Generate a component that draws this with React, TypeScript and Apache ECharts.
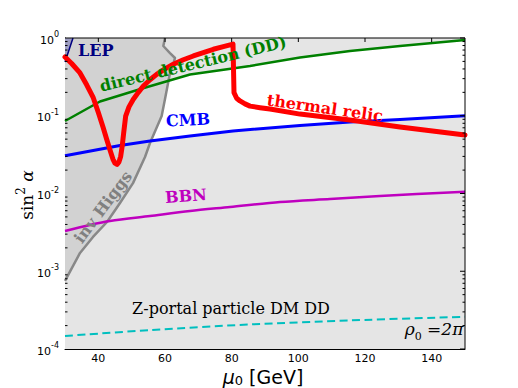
import React, { useEffect, useRef } from "react";
import * as echarts from "echarts";

// ---- data (mu0 [GeV], sin^2 alpha) ----
const xTickValues = [40, 60, 80, 100, 120, 140];
const yMajorTicks = [1e-4, 1e-3, 1e-2, 0.1, 1];
const yMinorTicks = [
  2e-4, 3e-4, 4e-4, 5e-4, 6e-4, 7e-4, 8e-4, 9e-4,
  2e-3, 3e-3, 4e-3, 5e-3, 6e-3, 7e-3, 8e-3, 9e-3,
  2e-2, 3e-2, 4e-2, 5e-2, 6e-2, 7e-2, 8e-2, 9e-2,
  0.2, 0.3, 0.4, 0.5, 0.6, 0.7, 0.8, 0.9,
];

const thermalRelic: [number, number][] = [
  [30, 0.57], [32, 0.47], [34.5, 0.355], [36.5, 0.25], [38.4, 0.174], [40, 0.11],
  [41.4, 0.0716], [42.5, 0.05], [43.5, 0.0363], [44.4, 0.0275], [45, 0.0245],
  [45.6, 0.0236], [46.2, 0.0255], [46.7, 0.03], [47.2, 0.042], [47.6, 0.06],
  [48.2, 0.099], [49.2, 0.13], [50.5, 0.163], [52, 0.2], [53.5, 0.241],
  [55.5, 0.29], [57.5, 0.341], [60, 0.4], [62.5, 0.459], [65.5, 0.525],
  [68.5, 0.587], [71.5, 0.65], [74.5, 0.716], [77.5, 0.775], [80.4, 0.835],
  [80.7, 0.198], [81.5, 0.168], [82.5, 0.155], [84, 0.142], [85.5, 0.133],
  [88.5, 0.127], [91.5, 0.122], [100.5, 0.105], [115.5, 0.088], [130.5, 0.0716],
  [150, 0.0565],
];

const directDetection: [number, number][] = [
  [30, 0.0856], [40.5, 0.1525], [53.4, 0.2255], [67.5, 0.3396], [85.5, 0.4365],
  [100.5, 0.561], [115.5, 0.681], [130.5, 0.789], [150, 0.942],
];

const cmb: [number, number][] = [
  [30, 0.0306], [46.5, 0.0414], [55.5, 0.0473], [67.5, 0.0549], [80.4, 0.0637],
  [100.5, 0.0749], [115.5, 0.0832], [130.5, 0.0895], [150, 0.1],
];

const bbn: [number, number][] = [
  [30, 0.0033], [37.5, 0.00394], [43.5, 0.00443], [55.5, 0.00514], [67.5, 0.00596],
  [79.5, 0.0067], [94.5, 0.00778], [109.5, 0.0085], [124.5, 0.0093], [150, 0.01055],
];

const zPortal: [number, number][] = [
  [30, 1.47e-4], [55.5, 1.75e-4], [85.5, 2.07e-4], [115.5, 2.33e-4], [150, 2.6e-4],
];

const invHiggs: [number, number][] = [
  [30, 7.5e-4], [34.5, 1.72e-3], [38.4, 2.76e-3], [42.6, 4.3e-3], [46.5, 7.55e-3],
  [50.4, 0.0136], [54, 0.0295], [55.5, 0.0446], [59, 0.099], [60, 0.164],
  [61.5, 0.355], [62.4, 0.45], [63, 0.553], [61.5, 0.641], [59.5, 0.789], [60, 1],
];

const lep: [number, number][] = [
  [30, 0.491], [32.4, 1],
];

export default function App() {
  const ref = useRef<HTMLDivElement>(null);

  useEffect(() => {
    if (!ref.current) return;
    const chart = echarts.init(ref.current, undefined, { renderer: "svg" });

    // excluded (grey) regions: above the DD curve, below the CMB curve
    const aboveDD: [number, number][] = [...directDetection, [150, 1], [30, 1]];
    const belowCMB: [number, number][] = [...cmb, [150, 1e-4], [30, 1e-4]];
    const higgsRegion: [number, number][] = [...invHiggs, [30, 1]];
    const lepRegion: [number, number][] = [...lep, [30, 1]];

    const regionSeries = (pts: [number, number][], fill: string, z: number) => ({
      type: "custom", z, clip: false, data: [[30, 0.5]],
      renderItem: (_p: any, api: any) => ({
        type: "group",
        children: [
          { type: "polygon", shape: { points: pts.map((p) => api.coord(p)) }, style: { fill, opacity: 1 } },
        ],
      }),
    });

    const serifBold = { fontFamily: "DejaVu Serif", fontWeight: "bold", fontSize: 16 } as any;

    const option: any = {
      animation: false,
      grid: { left: 65, right: 53, top: 38, bottom: 39 },
      xAxis: {
        type: "value", min: 30, max: 150,
        splitLine: { show: false },
        axisLine: { show: true, onZero: false, lineStyle: { color: "#000", width: 1 } },
        axisTick: { show: true, inside: true, length: 4, customValues: xTickValues, lineStyle: { color: "#000" } },
        axisLabel: {
          customValues: xTickValues, margin: 4, color: "#000",
          fontFamily: "DejaVu Sans", fontSize: 11,
        },
      },
      yAxis: {
        type: "log", logBase: 10, min: 1e-4, max: 1,
        splitLine: { show: false },
        axisLine: { show: true, onZero: false, lineStyle: { color: "#000", width: 1 } },
        axisTick: { show: true, inside: true, length: 5, lineStyle: { color: "#000" } },
        axisLabel: {
          margin: 6,
          formatter: (v: number) => `{b|10}{s|${Math.round(Math.log10(v))}}`,
          rich: {
            b: { fontFamily: "DejaVu Sans", fontSize: 11, color: "#000", verticalAlign: "bottom", lineHeight: 15 },
            s: { fontFamily: "DejaVu Sans", fontSize: 8, color: "#000", verticalAlign: "top", lineHeight: 9 },
          },
        },
      },
      series: [
        regionSeries(aboveDD, "#e5e5e5", 1),
        regionSeries(belowCMB, "#e5e5e5", 1),
        regionSeries(higgsRegion, "#d2d2d2", 2),
        regionSeries(lepRegion, "#9e9ec2", 2),
        {
          type: "line", name: "LEP", data: lep, showSymbol: false, z: 3,
          lineStyle: { color: "#000080", width: 1.5 },
        },
        {
          type: "line", name: "inv Higgs", data: invHiggs, showSymbol: false, z: 3,
          lineStyle: { color: "#888888", width: 2.5, join: "round" },
        },
        {
          type: "line", name: "Z-portal", data: zPortal, showSymbol: false, smooth: 0.3, z: 3,
          lineStyle: { color: "#00bfbf", width: 2, type: [8, 4.5] },
        },
        {
          type: "line", name: "BBN", data: bbn, showSymbol: false, smooth: 0.3, z: 3,
          lineStyle: { color: "#bf00bf", width: 2.5 },
        },
        {
          type: "line", name: "CMB", data: cmb, showSymbol: false, z: 3,
          lineStyle: { color: "#0000ff", width: 3, join: "round" },
        },
        {
          type: "line", name: "DD", data: directDetection, showSymbol: false, z: 3,
          lineStyle: { color: "#008000", width: 2.5, join: "round" },
        },
        {
          type: "line", name: "thermal relic", data: thermalRelic, showSymbol: false, z: 4,
          lineStyle: { color: "#ff0000", width: 5, join: "round", cap: "round" },
        },
        {
          type: "custom", z: 5, silent: true, clip: false,
          data: [[30, 0.5]],
          renderItem: (_p: any, api: any) => {
            const children: any[] = [];
            const seg = (a: number[], b: number[]) =>
              children.push({ type: "line", shape: { x1: a[0], y1: a[1], x2: b[0], y2: b[1] }, style: { stroke: "#000", lineWidth: 1, fill: "none" } });
            const tl = api.coord([30, 1]);
            const tr = api.coord([150, 1]);
            const br = api.coord([150, 1e-4]);
            seg(tl, tr);
            seg(tr, br);
            yMinorTicks.forEach((v) => {
              const l = api.coord([30, v]);
              const r = api.coord([150, v]);
              seg(l, [l[0] + 2.5, l[1]]);
              seg(r, [r[0] - 2.5, r[1]]);
            });
            yMajorTicks.forEach((v) => {
              const r = api.coord([150, v]);
              seg(r, [r[0] - 5, r[1]]);
            });
            xTickValues.forEach((x) => {
              const t = api.coord([x, 1]);
              seg(t, [t[0], t[1] + 4]);
            });
            return { type: "group", children };
          },
        },
      ],
      graphic: [
        { type: "text", z: 100, x: 78, y: 50, style: { text: "LEP", fill: "#000080", ...serifBold, verticalAlign: "middle" } },
        { type: "text", z: 100, x: 193, y: 64, rotation: 0.236,
          style: { text: "direct detection (DD)", fill: "#008000", ...serifBold, align: "center", verticalAlign: "middle" } },
        { type: "text", z: 100, x: 188, y: 120, rotation: 0.05,
          style: { text: "CMB", fill: "#0000ff", ...serifBold, align: "center", verticalAlign: "middle" } },
        { type: "text", z: 100, x: 325, y: 108, rotation: -0.14,
          style: { text: "thermal relic", fill: "#ff0000", ...serifBold, align: "center", verticalAlign: "middle" } },
        { type: "text", z: 100, x: 186, y: 196, rotation: 0.07,
          style: { text: "BBN", fill: "#bf00bf", ...serifBold, align: "center", verticalAlign: "middle" } },
        { type: "text", z: 100, x: 103, y: 207, rotation: 0.93,
          style: { text: "inv Higgs", fill: "#808080", ...serifBold, align: "center", verticalAlign: "middle" } },
        { type: "text", z: 100, x: 231, y: 308,
          style: { text: "Z-portal particle DM DD", fill: "#000", fontFamily: "DejaVu Serif", fontSize: 16, align: "center", verticalAlign: "middle" } },
        { type: "text", z: 100, x: 434, y: 331,
          style: {
            text: "{r|ρ}{sub|0}{t| =2π}", align: "center", verticalAlign: "middle",
            rich: {
              r: { fontFamily: "DejaVu Serif", fontStyle: "italic", fontSize: 17, fill: "#000", lineHeight: 22, verticalAlign: "top" },
              sub: { fontFamily: "DejaVu Serif", fontSize: 11, fill: "#000", lineHeight: 11, verticalAlign: "bottom" },
              t: { fontFamily: "DejaVu Serif", fontStyle: "italic", fontSize: 17, fill: "#000", lineHeight: 22, verticalAlign: "top" },
            },
          } },
        { type: "text", z: 100, x: 263, y: 377,
          style: {
            text: "{m|μ}{sub|0}{t| [GeV]}", align: "center", verticalAlign: "middle",
            rich: {
              m: { fontFamily: "DejaVu Sans", fontStyle: "italic", fontSize: 19, fill: "#000", lineHeight: 20, verticalAlign: "top" },
              sub: { fontFamily: "DejaVu Sans", fontSize: 13, fill: "#000", lineHeight: 10, verticalAlign: "bottom" },
              t: { fontFamily: "DejaVu Sans", fontSize: 19, fill: "#000", lineHeight: 20, verticalAlign: "top" },
            },
          } },
        { type: "text", z: 100, x: 25, y: 195, rotation: Math.PI / 2,
          style: {
            text: "{a|sin}{s|2}{b| α}", align: "center", verticalAlign: "middle",
            rich: {
              a: { fontFamily: "DejaVu Serif", fontSize: 17, fill: "#000", lineHeight: 20, verticalAlign: "bottom" },
              s: { fontFamily: "DejaVu Serif", fontSize: 12, fill: "#000", lineHeight: 12, verticalAlign: "top" },
              b: { fontFamily: "DejaVu Serif", fontStyle: "italic", fontSize: 17, fill: "#000", lineHeight: 20, verticalAlign: "bottom" },
            },
          } },
      ],
    };

    chart.setOption(option);
    return () => chart.dispose();
  }, []);

  return (
    <div
      ref={ref}
      style={{ position: "fixed", left: 0, top: 0, width: 518, height: 388, background: "#fff" }}
    />
  );
}
